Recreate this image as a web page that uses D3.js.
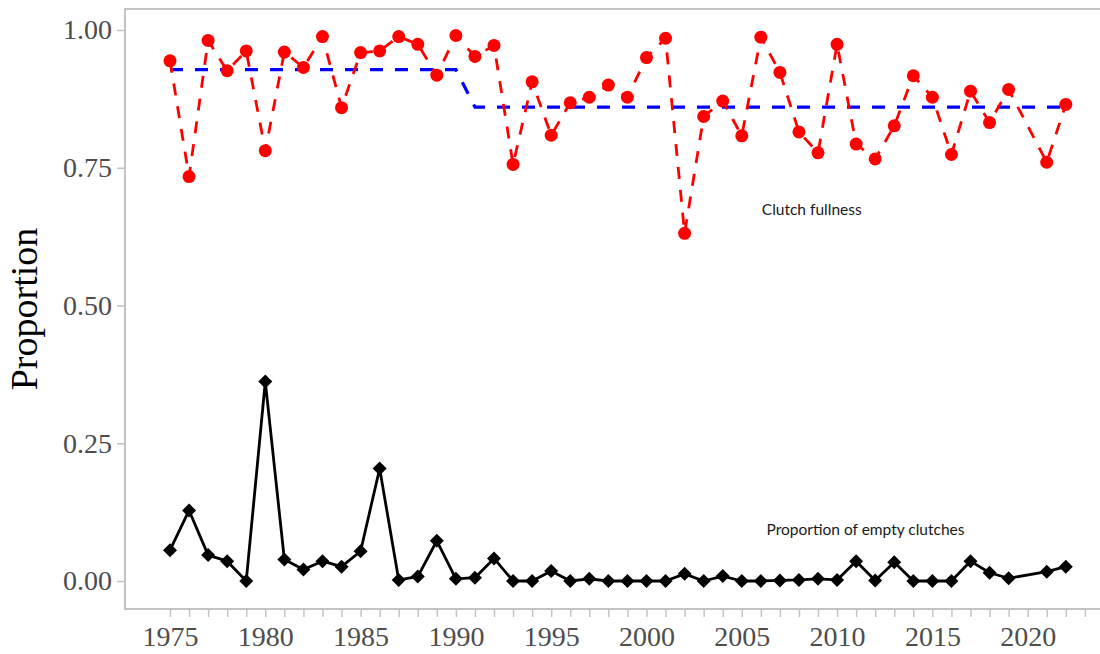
<!DOCTYPE html>
<html>
<head>
<meta charset="utf-8">
<script src="https://cdn.jsdelivr.net/npm/d3@7"></script>
<style>
  body { margin: 0; background: #ffffff; }
  svg { display: block; }
</style>
</head>
<body>
<svg id="chart" width="1100" height="654"></svg>
<script>
// Survey years (no survey in 2020)
const years = [1975, 1976, 1977, 1978, 1979, 1980, 1981, 1982, 1983, 1984,
  1985, 1986, 1987, 1988, 1989, 1990, 1991, 1992, 1993, 1994,
  1995, 1996, 1997, 1998, 1999, 2000, 2001, 2002, 2003, 2004,
  2005, 2006, 2007, 2008, 2009, 2010, 2011, 2012, 2013, 2014,
  2015, 2016, 2017, 2018, 2019, 2021, 2022];

// Mean clutch fullness per year
const clutchFullness = [0.944, 0.734, 0.981, 0.926, 0.962, 0.781, 0.960, 0.932, 0.988, 0.859,
  0.959, 0.962, 0.988, 0.974, 0.918, 0.990, 0.952, 0.972, 0.756, 0.906,
  0.809, 0.868, 0.878, 0.900, 0.878, 0.950, 0.985, 0.631, 0.843, 0.871,
  0.808, 0.987, 0.923, 0.815, 0.777, 0.974, 0.793, 0.766, 0.826, 0.917,
  0.878, 0.774, 0.889, 0.832, 0.892, 0.760, 0.865];

// Proportion of clutches that were empty
const emptyClutches = [0.056, 0.128, 0.047, 0.036, 0.000, 0.362, 0.039, 0.021, 0.036, 0.026,
  0.054, 0.204, 0.002, 0.008, 0.073, 0.004, 0.006, 0.041, 0.000, 0.000,
  0.018, 0.000, 0.004, 0.000, 0.000, 0.000, 0.000, 0.013, 0.000, 0.009,
  0.000, 0.000, 0.001, 0.002, 0.004, 0.002, 0.036, 0.001, 0.034, 0.000,
  0.000, 0.000, 0.036, 0.015, 0.005, 0.017, 0.026];

// Period means of clutch fullness (before / after the 1990 shift)
const trendYears = [1975, 1990, 1991, 2022];
const trendValues = [0.928, 0.928, 0.860, 0.860];

// Axis ticks
const yTicks = [0, 0.25, 0.5, 0.75, 1];
const xTickYears = d3.range(1975, 2026);
const xLabelYears = [1975, 1980, 1985, 1990, 1995, 2000, 2005, 2010, 2015, 2020];

// Annotations
const annotations = [
  { text: "Clutch fullness", year: 2006.05, value: 0.664 },
  { text: "Proportion of empty clutches", year: 2006.3, value: 0.083 }
];

const svg = d3.select("#chart");
const panel = { left: 125, top: 9, right: 1112, bottom: 609 };

const x = d3.scaleLinear().domain([1975, 2022]).range([170, 1065.8]);
const y = d3.scaleLinear().domain([0, 1]).range([581, 30]);

const axisColor = "#c3c3c3";
const tickTextColor = "#4d4d4d";

// Panel outline (top and left edges visible, right edge runs off the canvas)
svg.append("rect")
  .attr("x", panel.left).attr("y", panel.top)
  .attr("width", panel.right - panel.left)
  .attr("height", panel.bottom - panel.top)
  .attr("fill", "none")
  .attr("stroke", axisColor)
  .attr("stroke-width", 2);

// Y axis
const yAxis = svg.append("g")
  .attr("transform", `translate(${panel.left},0)`)
  .call(d3.axisLeft(y).tickValues(yTicks).tickFormat(d3.format(".2f")).tickSize(8).tickPadding(5));
yAxis.select(".domain").remove();
yAxis.selectAll(".tick line").attr("stroke", axisColor).attr("stroke-width", 1.5);
yAxis.selectAll(".tick text")
  .attr("fill", tickTextColor)
  .style("font-family", "'Liberation Serif', 'Times New Roman', serif")
  .style("font-size", "28px");

// X axis
const xAxis = svg.append("g")
  .attr("transform", `translate(0,${panel.bottom})`)
  .call(d3.axisBottom(x).tickValues(xTickYears).tickFormat(d => xLabelYears.includes(d) ? d : "").tickSize(8).tickPadding(9));
xAxis.select(".domain").remove();
xAxis.selectAll(".tick line").attr("stroke", axisColor).attr("stroke-width", 1.5);
xAxis.selectAll(".tick text")
  .attr("fill", tickTextColor)
  .style("font-family", "'Liberation Serif', 'Times New Roman', serif")
  .style("font-size", "28px");

// Y axis title
svg.append("text")
  .attr("transform", `translate(37,${(panel.top + panel.bottom) / 2}) rotate(-90)`)
  .attr("text-anchor", "middle")
  .style("font-family", "'Liberation Serif', 'Times New Roman', serif")
  .style("font-size", "38px")
  .attr("fill", "#000000")
  .text("Proportion");

// Period-mean trend (blue dashed)
const trendLine = d3.line().x((d, i) => x(trendYears[i])).y(d => y(d));
svg.append("path")
  .datum(trendValues)
  .attr("d", trendLine)
  .attr("fill", "none")
  .attr("stroke", "#0000ff")
  .attr("stroke-width", 3.2)
  .attr("stroke-dasharray", "13,12");

// Clutch fullness (red dashed line with circles)
const seriesLine = d3.line().x((d, i) => x(years[i])).y(d => y(d));
svg.append("path")
  .datum(clutchFullness)
  .attr("d", seriesLine)
  .attr("fill", "none")
  .attr("stroke", "#ff0000")
  .attr("stroke-width", 2.8)
  .attr("stroke-dasharray", "12,11");

svg.append("g").selectAll("circle")
  .data(clutchFullness)
  .join("circle")
  .attr("cx", (d, i) => x(years[i]))
  .attr("cy", d => y(d))
  .attr("r", 6.5)
  .attr("fill", "#ff0000");

// Proportion of empty clutches (black solid line with diamonds)
svg.append("path")
  .datum(emptyClutches)
  .attr("d", seriesLine)
  .attr("fill", "none")
  .attr("stroke", "#000000")
  .attr("stroke-width", 2.8)
  .attr("stroke-linejoin", "round");

const diamond = d3.symbol().type(d3.symbolDiamond2).size(125);
svg.append("g").selectAll("path")
  .data(emptyClutches)
  .join("path")
  .attr("transform", (d, i) => `translate(${x(years[i])},${y(d)})`)
  .attr("d", diamond)
  .attr("fill", "#000000");

// Series annotations
svg.append("g").selectAll("text")
  .data(annotations)
  .join("text")
  .attr("x", d => x(d.year))
  .attr("y", d => y(d.value))
  .style("font-family", "Lato, 'Open Sans', sans-serif")
  .style("font-size", "15.5px")
  .attr("fill", "#1a1a1a")
  .text(d => d.text);
</script>
</body>
</html>
